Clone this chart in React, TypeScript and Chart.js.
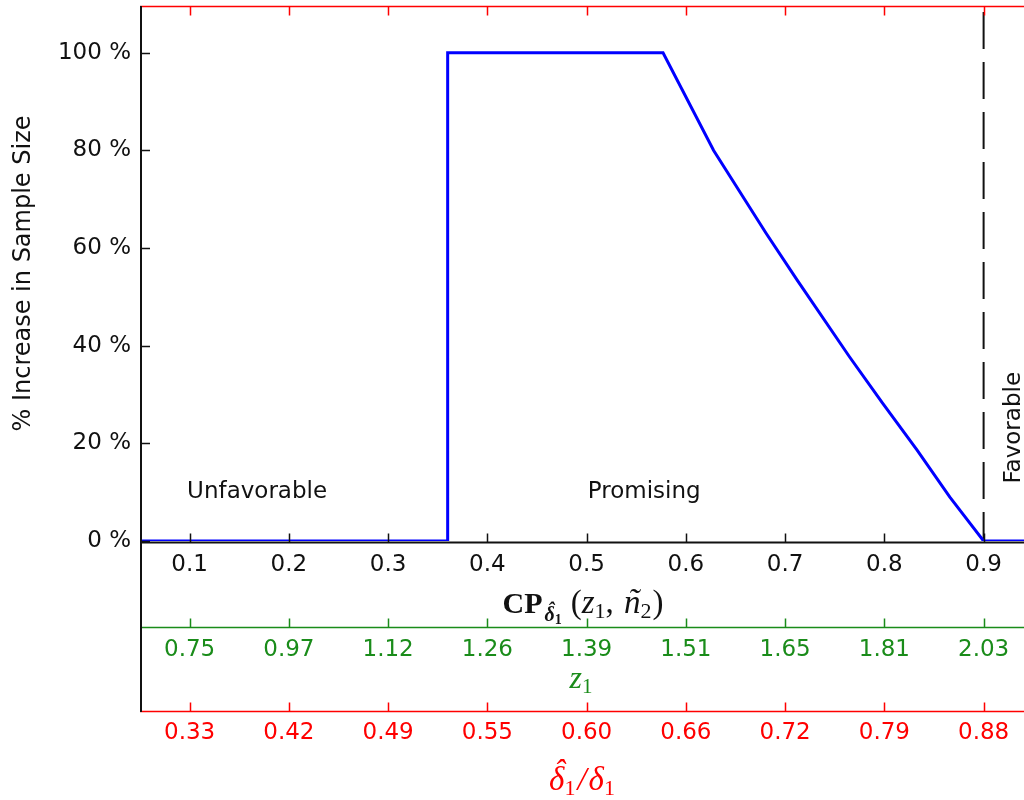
import React, { useEffect, useRef } from "react";
import { Chart, registerables } from "chart.js";

Chart.register(...registerables);

// ---- data ----
const CP_VALUES = [0.0, 0.36, 0.36, 0.577, 0.628, 0.681, 0.712, 0.765, 0.798, 0.833, 0.866, 0.9, 1.0];
const PCT_INCREASE = [0, 0, 100, 100, 80, 63, 53.5, 37.7, 28.3, 18.6, 9.0, 0, 0];

const CP_TICKS = [0.1, 0.2, 0.3, 0.4, 0.5, 0.6, 0.7, 0.8, 0.9];
const CP_TICK_LABELS = ["0.1", "0.2", "0.3", "0.4", "0.5", "0.6", "0.7", "0.8", "0.9"];
const Z1_TICK_LABELS = ["0.75", "0.97", "1.12", "1.26", "1.39", "1.51", "1.65", "1.81", "2.03"];
const DELTA_RATIO_TICK_LABELS = ["0.33", "0.42", "0.49", "0.55", "0.60", "0.66", "0.72", "0.79", "0.88"];
const PCT_TICKS = [0, 20, 40, 60, 80, 100];

const FAVORABLE_BOUNDARY = 0.9;
const X_RANGE = [0.05, 0.9407];
const Y_RANGE = [0, 109.6];

const ZONE_LABELS = ["Unfavorable", "Promising", "Favorable"];
const ZONE_LABEL_CP = [0.168, 0.558, 0.937];
const ZONE_LABEL_PCT = [8.8, 8.8, 23.2];

// ---- styles ----
const BLACK = "#111111";
const GREEN = "#1a8c1a";
const RED = "#ff0000";
const BLUE = "#0000ff";
const TICK_FONT = { family: "DejaVu Sans", size: 23 };
const SERIF = "'Liberation Serif', 'DejaVu Serif', serif";

type Run = { text: string; font: string; dy?: number; hat?: boolean; tilde?: boolean; gap?: number };

function drawRuns(ctx: CanvasRenderingContext2D, runs: Run[], cx: number, baseline: number, color: string) {
  const widths = runs.map((r) => {
    ctx.font = r.font;
    return ctx.measureText(r.text).width + (r.gap || 0);
  });
  const total = widths.reduce((a, b) => a + b, 0);
  let x = cx - total / 2;
  ctx.fillStyle = color;
  ctx.textBaseline = "alphabetic";
  runs.forEach((r, i) => {
    ctx.font = r.font;
    ctx.textAlign = "left";
    const y = baseline + (r.dy || 0);
    ctx.fillText(r.text, x, y);
    if (r.hat || r.tilde) {
      const w = ctx.measureText(r.text).width;
      const m = /(\d+)px/.exec(r.font);
      const size = m ? parseFloat(m[1]) : 20;
      ctx.textAlign = "center";
      if (r.hat) ctx.fillText("\u02C6", x + w / 2 + size * 0.08, y - size * 0.22);
      else ctx.fillText("\u02DC", x + w / 2 + size * 0.04, y - size * 0.02);
    }
    x += widths[i];
  });
}

const axesPlugin = {
  id: "matlabAxes",
  afterDraw(chart: any) {
    const ctx: CanvasRenderingContext2D = chart.ctx;
    const { left, right, top, bottom } = chart.chartArea;
    const xs = chart.scales.x;
    const x2 = chart.scales.x2;
    const x3 = chart.scales.x3;
    const ys = chart.scales.y;
    const TL = 9;
    ctx.save();

    const hLine = (y: number, color: string, w: number, tickDir: number) => {
      ctx.strokeStyle = color;
      ctx.lineWidth = w;
      ctx.beginPath();
      ctx.moveTo(left, y);
      ctx.lineTo(right, y);
      ctx.stroke();
      ctx.lineWidth = 1.5;
      ctx.beginPath();
      CP_TICKS.forEach((v) => {
        const px = Math.round(xs.getPixelForValue(v)) + 0.5;
        ctx.moveTo(px, y);
        ctx.lineTo(px, y + tickDir * TL);
      });
      ctx.stroke();
    };

    // top red box edge with downward ticks
    hLine(top + 0.5, RED, 1.5, 1);
    // main x axis (black)
    hLine(bottom + 1.5, BLACK, 2, -1);
    // green z1 axis
    hLine(x2.top + 0.5, GREEN, 1.5, -1);
    // red delta axis
    hLine(x3.top + 0.5, RED, 1.5, -1);

    // left black axis line, extending down to the red axis
    ctx.strokeStyle = BLACK;
    ctx.lineWidth = 2;
    ctx.beginPath();
    ctx.moveTo(left + 1, top);
    ctx.lineTo(left + 1, x3.top + 1);
    ctx.stroke();
    ctx.lineWidth = 1.5;
    ctx.beginPath();
    PCT_TICKS.forEach((v) => {
      const py = Math.round(ys.getPixelForValue(v)) + 0.5;
      ctx.moveTo(left, py);
      ctx.lineTo(left + TL + 1, py);
    });
    ctx.stroke();

    // zone labels
    ctx.fillStyle = BLACK;
    ctx.font = "23px 'DejaVu Sans'";
    ctx.textAlign = "center";
    ctx.textBaseline = "alphabetic";
    ZONE_LABELS.forEach((t, i) => {
      const px = xs.getPixelForValue(ZONE_LABEL_CP[i]);
      const py = ys.getPixelForValue(ZONE_LABEL_PCT[i]);
      if (i === 2) {
        ctx.save();
        ctx.translate(px, py);
        ctx.rotate(-Math.PI / 2);
        ctx.fillText(t, 0, 0);
        ctx.restore();
      } else {
        ctx.fillText(t, px, py);
      }
    });

    const cx = (left + right) / 2;
    // CP title
    drawRuns(
      ctx,
      [
        { text: "CP", font: `bold 30px ${SERIF}`, gap: 2 },
        { text: "\u03B4", font: `italic bold 20px ${SERIF}`, dy: 8, hat: true },
        { text: "1", font: `bold 14px ${SERIF}`, dy: 11, gap: 9 },
        { text: "(", font: `33px ${SERIF}` },
        { text: "z", font: `italic 33px ${SERIF}` },
        { text: "1", font: `22px ${SERIF}`, dy: 5 },
        { text: ", ", font: `33px ${SERIF}`, gap: 2 },
        { text: "n", font: `italic 33px ${SERIF}`, tilde: true },
        { text: "2", font: `22px ${SERIF}`, dy: 5, gap: 1 },
        { text: ")", font: `33px ${SERIF}` },
      ],
      cx + 1,
      xs.top + 72,
      BLACK
    );
    // z1 title
    drawRuns(
      ctx,
      [
        { text: "z", font: `italic 32px ${SERIF}` },
        { text: "1", font: `21px ${SERIF}`, dy: 5 },
      ],
      cx - 1,
      x2.top + 61,
      GREEN
    );
    // delta ratio title
    drawRuns(
      ctx,
      [
        { text: "\u03B4", font: `italic 33px ${SERIF}`, hat: true },
        { text: "1", font: `22px ${SERIF}`, dy: 5, gap: 2 },
        { text: "/", font: `italic 33px ${SERIF}`, gap: 2 },
        { text: "\u03B4", font: `italic 33px ${SERIF}` },
        { text: "1", font: `22px ${SERIF}`, dy: 5 },
      ],
      cx,
      x3.top + 79,
      RED
    );
    ctx.restore();
  },
};

function bottomAxis(weight: number, height: number, labels: string[], color: string, padding: number) {
  return {
    type: "linear" as const,
    position: "bottom" as const,
    weight,
    min: X_RANGE[0],
    max: X_RANGE[1],
    afterBuildTicks: (s: any) => {
      s.ticks = CP_TICKS.map((value) => ({ value }));
    },
    afterFit: (s: any) => {
      s.height = height;
      s.paddingLeft = 0;
      s.paddingRight = 0;
    },
    grid: { display: false, drawTicks: false, tickLength: 0 },
    border: { display: false },
    ticks: {
      callback: (_v: any, i: number) => labels[i],
      font: TICK_FONT,
      color,
      padding,
      autoSkip: false,
      maxRotation: 0,
      minRotation: 0,
    },
  };
}

export default function App() {
  const ref = useRef<HTMLCanvasElement | null>(null);
  useEffect(() => {
    if (!ref.current) return;
    const chart = new Chart(ref.current, {
      type: "line",
      data: {
        datasets: [
          {
            data: CP_VALUES.map((x, i) => ({ x, y: PCT_INCREASE[i] })),
            borderColor: BLUE,
            borderWidth: 3,
            pointRadius: 0,
            tension: 0,
            fill: false,
          },
          {
            data: [
              { x: FAVORABLE_BOUNDARY, y: Y_RANGE[1] },
              { x: FAVORABLE_BOUNDARY, y: 0 },
            ],
            borderColor: BLACK,
            borderWidth: 2,
            borderDash: [37, 13],
            borderDashOffset: 44,
            pointRadius: 0,
            fill: false,
          },
        ],
      },
      options: {
        animation: false,
        responsive: true,
        maintainAspectRatio: false,
        events: [],
        layout: { padding: { top: 6, left: 0, right: 0, bottom: 0 } },
        plugins: { legend: { display: false }, tooltip: { enabled: false } },
        scales: {
          x: bottomAxis(0, 86, CP_TICK_LABELS, BLACK, 10),
          x2: bottomAxis(1, 84, Z1_TICK_LABELS, GREEN, 9),
          x3: bottomAxis(2, 89, DELTA_RATIO_TICK_LABELS, RED, 8),
          y: {
            type: "linear",
            position: "left",
            min: Y_RANGE[0],
            max: Y_RANGE[1],
            afterBuildTicks: (s: any) => {
              s.ticks = PCT_TICKS.map((value) => ({ value }));
            },
            afterFit: (s: any) => {
              s.width = 140;
              s.paddingTop = 0;
              s.paddingBottom = 0;
            },
            grid: { display: false, drawTicks: false, tickLength: 0 },
            border: { display: false },
            ticks: {
              callback: (v: any) => `${v} %`,
              font: TICK_FONT,
              color: BLACK,
              padding: 9,
            },
            title: {
              display: true,
              text: "% Increase in Sample Size",
              font: { family: "DejaVu Sans", size: 24 },
              color: BLACK,
              padding: { top: 9, bottom: 0 },
            },
          },
        },
      },
      plugins: [axesPlugin],
    } as any);
    return () => chart.destroy();
  }, []);
  return (
    <div style={{ position: "absolute", left: 0, top: 0, width: 1024, height: 800, background: "#fff" }}>
      <canvas ref={ref} />
    </div>
  );
}
